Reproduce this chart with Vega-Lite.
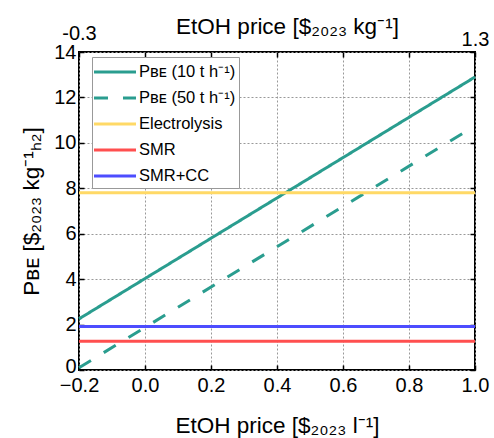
{
  "$schema": "https://vega.github.io/schema/vega-lite/v6.json",
  "width": 396,
  "height": 318,
  "autosize": {"type": "none"},
  "padding": {"left": 79, "top": 52, "right": 19, "bottom": 68},
  "data": {
    "values": [
      {"series": "Pʙᴇ (10 t h⁻¹)", "price": -0.2, "pbe": 2.25},
      {"series": "Pʙᴇ (10 t h⁻¹)", "price": 1.0, "pbe": 12.9},
      {"series": "Pʙᴇ (50 t h⁻¹)", "price": -0.2, "pbe": 0.1},
      {"series": "Pʙᴇ (50 t h⁻¹)", "price": 1.0, "pbe": 10.75},
      {"series": "Electrolysis", "price": -0.2, "pbe": 7.8},
      {"series": "Electrolysis", "price": 1.0, "pbe": 7.8},
      {"series": "SMR", "price": -0.2, "pbe": 1.27},
      {"series": "SMR", "price": 1.0, "pbe": 1.27},
      {"series": "SMR+CC", "price": -0.2, "pbe": 1.92},
      {"series": "SMR+CC", "price": 1.0, "pbe": 1.92}
    ]
  },
  "config": {
    "font": "Liberation Sans",
    "view": {"stroke": "black", "strokeWidth": 2},
    "axis": {
      "labelFont": "Liberation Sans",
      "titleFont": "Liberation Sans",
      "labelColor": "black",
      "titleColor": "black",
      "titleFontWeight": "normal",
      "labelFontSize": 20,
      "titleFontSize": 22.5,
      "labelFlush": false,
      "labelOverlap": false,
      "domain": false,
      "tickColor": "black",
      "tickWidth": 1.5,
      "tickSize": -5,
      "gridColor": "#999999",
      "gridDash": [2, 2],
      "gridWidth": 1
    },
    "legend": {
      "orient": "none",
      "legendX": 13,
      "legendY": 5,
      "strokeColor": "#999999",
      "strokeWidth": 1,
      "fillColor": "white",
      "padding": 3,
      "symbolType": "M-2,0H2",
      "symbolSize": 441,
      "symbolOffset": 8,
      "symbolStrokeWidth": 3,
      "labelFont": "Liberation Sans",
      "labelFontSize": 16.5,
      "labelColor": "black",
      "labelOffset": 12,
      "rowPadding": 5
    }
  },
  "layer": [
    {
      "mark": {"type": "line", "strokeWidth": 3, "strokeCap": "butt"},
      "encoding": {
        "x": {
          "field": "price",
          "type": "quantitative",
          "scale": {"domain": [-0.2, 1.0], "nice": false, "zero": false},
          "axis": {
            "orient": "bottom",
            "values": [-0.2, 0, 0.2, 0.4, 0.6, 0.8, 1.0],
            "format": ".1f",
            "grid": true,
            "labelPadding": 10,
            "title": "EtOH price [$₂₀₂₃ l⁻¹]",
            "titleY": 55,
            "titleBaseline": "middle"
          }
        },
        "y": {
          "field": "pbe",
          "type": "quantitative",
          "scale": {"domain": [0, 14], "nice": false, "zero": false},
          "axis": {
            "orient": "left",
            "values": [0, 2, 4, 6, 8, 10, 12, 14],
            "grid": true,
            "labelPadding": 8,
            "labelOffset": {"condition": {"test": "datum.value == 0", "value": -4}, "value": 0},
            "title": "Pʙᴇ [$₂₀₂₃ kg⁻¹ₕ₂]",
            "titleX": -48,
            "titleBaseline": "middle"
          }
        },
        "color": {
          "field": "series",
          "type": "nominal",
          "scale": {
            "domain": ["Pʙᴇ (10 t h⁻¹)", "Pʙᴇ (50 t h⁻¹)", "Electrolysis", "SMR", "SMR+CC"],
            "range": ["#2a9d8f", "#2a9d8f", "#ffd966", "#ff4f4f", "#4d4dff"]
          },
          "legend": {"title": null}
        },
        "strokeDash": {
          "field": "series",
          "type": "nominal",
          "scale": {
            "domain": ["Pʙᴇ (10 t h⁻¹)", "Pʙᴇ (50 t h⁻¹)", "Electrolysis", "SMR", "SMR+CC"],
            "range": [[1, 0], [14, 15], [1, 0], [1, 0], [1, 0]]
          },
          "legend": {"title": null}
        }
      }
    },
    {
      "mark": {"type": "point", "opacity": 0},
      "encoding": {
        "x": {
          "field": "price",
          "type": "quantitative",
          "scale": {"domain": [-0.2, 1.0], "nice": false, "zero": false},
          "axis": {
            "orient": "top",
            "values": [-0.2, 0, 0.2, 0.4, 0.6, 0.8, 1.0],
            "labelExpr": "datum.value < -0.1 ? '-0.3' : (datum.value > 0.9 ? '1.3' : '')",
            "grid": false,
            "labelPadding": {"condition": {"test": "datum.value < 0", "value": 14}, "value": 8},
            "title": "EtOH price [$₂₀₂₃ kg⁻¹]",
            "titleY": -26,
            "titleX": 208,
            "titleBaseline": "middle"
          }
        },
        "y": {
          "field": "pbe",
          "type": "quantitative",
          "scale": {"domain": [0, 14], "nice": false, "zero": false},
          "axis": {
            "orient": "right",
            "values": [0, 2, 4, 6, 8, 10, 12, 14],
            "labels": false,
            "grid": false,
            "title": null
          }
        }
      }
    }
  ],
  "resolve": {"axis": {"x": "independent", "y": "independent"}}
}
